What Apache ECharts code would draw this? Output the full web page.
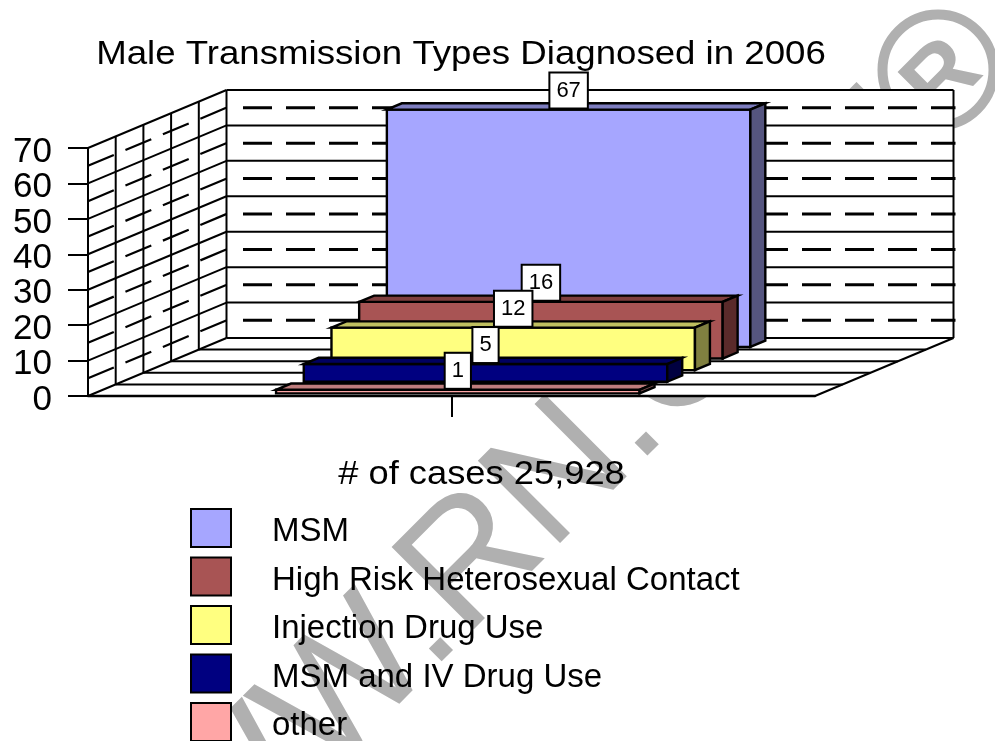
<!DOCTYPE html>
<html>
<head>
<meta charset="utf-8">
<style>html,body{margin:0;padding:0;background:#fff}#c{width:995px;height:741px}</style>
<script src="https://cdn.jsdelivr.net/npm/echarts@6/dist/echarts.min.js"></script>
</head>
<body>
<div id="c"></div>
<script>
const titleText = 'Male Transmission Types Diagnosed in 2006';
const caseText = '# of cases 25,928';
const categories = ['# of cases 25,928'];
const seriesNames = ['MSM', 'High Risk Heterosexual Contact', 'Injection Drug Use', 'MSM and IV Drug Use', 'other'];
const seriesValues = [67, 16, 12, 5, 1];
const seriesDepthSlots = [4, 3, 2, 1, 0];
const frontColors = ['#a6a6ff', '#a85454', '#ffff80', '#000080', '#ffa6a6'];
const topColors = ['#7d7dbf', '#7f3f3f', '#bfbf60', '#000060', '#bf7d7d'];
const sideColors = ['#55557f', '#5a2a2a', '#808040', '#000040', '#7f5353'];
const majorTicks = [0, 10, 20, 30, 40, 50, 60, 70];
const minorTicks = [5, 15, 25, 35, 45, 55, 65];
const depthDivisions = [0, 1, 2, 3, 4, 5];
const FF = '"Liberation Sans", Arial, sans-serif';
const GREY = '#b0b0b0';

// oblique projection of the depth axis
const DEPTH_X = 138.5, DEPTH_Y = -58, SLOTS = 5;

function P(api, catOffset, value, depth) {
  const c = api.coord([0, value]);
  const band = api.size([1, 0])[0];
  return [c[0] + catOffset * band + depth * DEPTH_X, c[1] + depth * DEPTH_Y];
}
function seg(a, b, width, dash) {
  return {
    type: 'line', silent: true,
    shape: { x1: a[0], y1: a[1], x2: b[0], y2: b[1] },
    style: { stroke: '#000', lineWidth: width, lineDash: dash || null, fill: null }
  };
}
function poly(points, fill, width) {
  return {
    type: 'polygon', silent: true,
    shape: { points: points },
    style: { fill: fill, stroke: width ? '#000' : null, lineWidth: width || 0, lineJoin: 'miter' }
  };
}
function renderFrame(params, api) {
  const top = majorTicks[majorTicks.length - 1];
  const L = -0.5, R = 0.5, kids = [];
  // white walls and floor
  kids.push(poly([P(api, L, 0, 1), P(api, R, 0, 1), P(api, R, top, 1), P(api, L, top, 1)], '#fff'));
  kids.push(poly([P(api, L, 0, 0), P(api, L, 0, 1), P(api, L, top, 1), P(api, L, top, 0)], '#fff'));
  kids.push(poly([P(api, L, 0, 0), P(api, R, 0, 0), P(api, R, 0, 1), P(api, L, 0, 1)], '#fff'));
  // floor lines and left wall verticals
  depthDivisions.forEach(function (k) {
    const d = k / SLOTS;
    if (k > 0) kids.push(seg(P(api, L, 0, d), P(api, R, 0, d), 2));
    kids.push(seg(P(api, L, 0, d), P(api, L, top, d), 2));
  });
  // major lines: wall and back
  majorTicks.forEach(function (v) {
    kids.push(seg(P(api, L, v, 0), P(api, L, v, 1), 2));
    if (v > 0) kids.push(seg(P(api, L, v, 1), P(api, R, v, 1), 2));
  });
  // minor dashed lines
  minorTicks.forEach(function (v) {
    kids.push(seg(P(api, L, v, 0), P(api, L, v, 1), 2.2, [28, 12.6]));
    const a = P(api, L, v, 1), b = P(api, R, v, 1);
    kids.push(seg([a[0] + 16.5, a[1]], [b[0] + 2, b[1]], 3, [29, 14]));
  });
  // right edges
  kids.push(seg(P(api, R, 0, 1), P(api, R, top, 1), 2));
  kids.push(seg(P(api, R, 0, 0), P(api, R, 0, 1), 2));
  return { type: 'group', children: kids };
}
function makeBarRenderer(i) {
  return function (params, api) {
    const v = api.value(1);
    const slot = seriesDepthSlots[i] / SLOTS;
    const inset = 0.228 / SLOTS;
    const d0 = slot + inset * 1, d1 = d0 + 0.108;
    const halfW = 0.25;
    const a = P(api, -halfW, 0, d0), b = P(api, halfW, 0, d0);
    const c = P(api, halfW, v, d0), e = P(api, -halfW, v, d0);
    const b2 = P(api, halfW, 0, d1), c2 = P(api, halfW, v, d1), e2 = P(api, -halfW, v, d1);
    const cx = (a[0] + b[0]) / 2;
    return {
      type: 'group',
      children: [
        poly([a, b, c, e], frontColors[i], 2.4),
        poly([e, c, c2, e2], topColors[i], 2.4),
        poly([b, b2, c2, c], sideColors[i], 2.4),
        {
          type: 'text', silent: true, z2: 100 + i,
          style: {
            x: cx, y: e[1] - 19, text: String(v),
            font: '22px ' + FF, fill: '#000',
            align: 'center', verticalAlign: 'middle',
            backgroundColor: '#fff', borderColor: '#000', borderWidth: 2,
            padding: [6, 6]
          }
        }
      ]
    };
  };
}
const chart = echarts.init(document.getElementById('c'), null, { renderer: 'canvas' });
const barSeries = seriesNames.map(function (name, i) {
  return {
    type: 'custom', name: name, z: 2,
    coordinateSystem: 'cartesian2d',
    renderItem: makeBarRenderer(i),
    encode: { x: 0, y: 1 },
    itemStyle: { color: frontColors[i], borderColor: '#000', borderWidth: 2 },
    data: [[0, seriesValues[i]]]
  };
});
chart.setOption({
  animation: false,
  backgroundColor: '#fff',
  textStyle: { fontFamily: FF },
  grid: { left: 88, width: 727, top: 148, height: 248, containLabel: false },
  xAxis: {
    type: 'category', data: categories, boundaryGap: true, z: 3,
    axisLine: { show: true, onZero: false, lineStyle: { color: '#000', width: 2.4 } },
    axisTick: { show: true, alignWithLabel: true, length: 21, lineStyle: { color: '#000', width: 2 } },
    axisLabel: { show: false }, splitLine: { show: false }
  },
  yAxis: {
    type: 'value', min: majorTicks[0], max: majorTicks[majorTicks.length - 1], interval: 10, z: 3,
    axisLine: { show: true, lineStyle: { color: '#000', width: 2 } },
    axisTick: { show: true, length: 20, lineStyle: { color: '#000', width: 2 } },
    axisLabel: {
      margin: 36, color: '#000', formatter: '{n|{value}}',
      rich: { n: { fontFamily: FF, fontSize: 35, color: '#000', padding: [8, 0, 0, 0] } }
    },
    splitLine: { show: false }
  },
  legend: {
    data: seriesNames, orient: 'vertical', left: 190, top: 508, height: 400, padding: 0,
    itemWidth: 40, itemHeight: 38, itemGap: 8, icon: 'rect', selectedMode: false,
    itemStyle: { borderColor: '#000', borderWidth: 2 },
    formatter: '{n|{name}}',
    textStyle: {
      fontFamily: FF, fontSize: 33, color: '#000',
      rich: { n: { fontFamily: FF, fontSize: 33, color: '#000', padding: [8, 0, 0, 36] } }
    }
  },
  graphic: [
    { type: 'text', z: 0, silent: true, x: 66, y: 971, rotation: Math.PI / 4,
      style: { text: 'WWW.RN.COM', font: '169px ' + FF, fill: GREY, align: 'left', verticalAlign: 'middle' } },
    { type: 'circle', z: 0, silent: true, shape: { cx: 938, cy: 70, r: 55.5 },
      style: { fill: null, stroke: GREY, lineWidth: 10 } },
    { type: 'text', z: 0, silent: true, x: 920, y: 103, rotation: Math.PI / 4,
      style: { text: 'R', font: 'bold 92px ' + FF, fill: GREY, align: 'left', verticalAlign: 'middle' } },
    { type: 'text', z: 8, silent: true, x: 461, y: 55, scaleX: 1.11,
      style: { text: titleText, font: '33px ' + FF, fill: '#000', align: 'center', verticalAlign: 'middle' } },
    { type: 'text', z: 8, silent: true, x: 481.5, y: 475, scaleX: 1.1,
      style: { text: caseText, font: '33px ' + FF, fill: '#000', align: 'center', verticalAlign: 'middle' } }
  ],
  series: [
    { type: 'custom', name: 'frame', z: 1, silent: true, renderItem: renderFrame,
      encode: { x: 0, y: 1 }, data: [[0, 0]] }
  ].concat(barSeries)
});
</script>
</body>
</html>
